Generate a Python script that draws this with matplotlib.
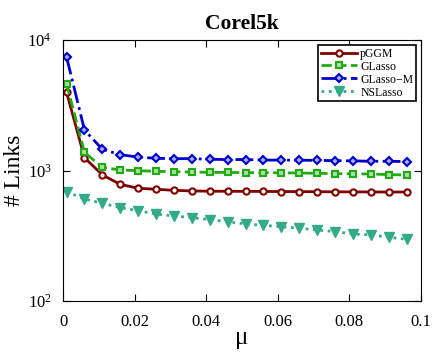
import numpy as np
import matplotlib
matplotlib.use('Agg')
import matplotlib.pyplot as plt

plt.rcParams['font.family'] = 'Liberation Serif'
plt.rcParams['mathtext.fontset'] = 'stix'

# Data
mu = [0.001, 0.006, 0.011, 0.016, 0.021, 0.026, 0.031, 0.036, 0.041, 0.046,
      0.051, 0.056, 0.061, 0.066, 0.071, 0.076, 0.081, 0.086, 0.091, 0.096]
pggm = [3975, 1253, 925, 783, 731, 718, 705, 697, 694, 693,
        692, 691, 690, 689, 688, 687, 686, 685, 684, 684]
glasso = [4600, 1377, 1057, 1009, 997, 986, 980, 973, 968, 966,
          964, 962, 960, 957, 952, 946, 943, 940, 930, 925]
glasso_m = [7400, 2042, 1453, 1321, 1268, 1239, 1233, 1233, 1219, 1213,
            1213, 1202, 1202, 1199, 1196, 1190, 1185, 1177, 1177, 1170]
nslasso = [689, 605, 561, 519, 492, 464, 448, 435, 420, 405,
           389, 380, 371, 361, 350, 340, 326, 321, 308, 297]

fig = plt.figure(figsize=(4.36, 3.54), dpi=100)
ax = fig.add_axes([0.1445, 0.1497, 0.8211, 0.7373])

ax.plot(mu, pggm, color='#800000', ls='-', lw=2, marker='o', ms=4.5,
        mfc='white', mec='#800000', mew=1.5, label='pGGM')
ax.plot(mu, glasso, color='#22aa11', ls='--', lw=2, marker='s', ms=4,
        mfc='#aaddaa', mec='#22aa11', mew=1.5, label='GLasso')
ax.plot(mu, glasso_m, color='#0000cc', ls='-.', lw=2, marker='D', ms=4,
        mfc='#aaaaff', mec='#0000cc', mew=1.5, label='GLasso\u2212M')
ax.plot(mu, nslasso, color='#33aa88', ls=':', lw=2, marker='v', ms=6.5,
        mfc='#33aa88', mec='#33aa88', label='NSLasso')

ax.set_yscale('log')
ax.set_ylim(100, 10000)
ax.set_xlim(0, 0.1)
ax.set_xticks([0, 0.02, 0.04, 0.06, 0.08, 0.1])
ax.set_xticklabels(['0', '0.02', '0.04', '0.06', '0.08', '0.1'])
ax.minorticks_off()
ax.tick_params(direction='in', top=True, right=True, labelsize=12, length=5)
ax.tick_params(axis='x', pad=9)
ax.tick_params(axis='y', pad=8)

ax.set_xlabel('\u03bc', fontsize=18, labelpad=-2)
ax.set_ylabel('# Links', fontsize=17, labelpad=2)
ax.set_title('Corel5k', fontsize=15.5, fontweight='bold', pad=8)

leg = ax.legend(loc='upper right', fontsize=8.5, fancybox=False, framealpha=1,
                edgecolor='black', handlelength=3, borderpad=0.25,
                labelspacing=0.08, handletextpad=0.3, borderaxespad=0.4)
leg.get_frame().set_linewidth(1.2)

fig.savefig('out.png', dpi=100)
